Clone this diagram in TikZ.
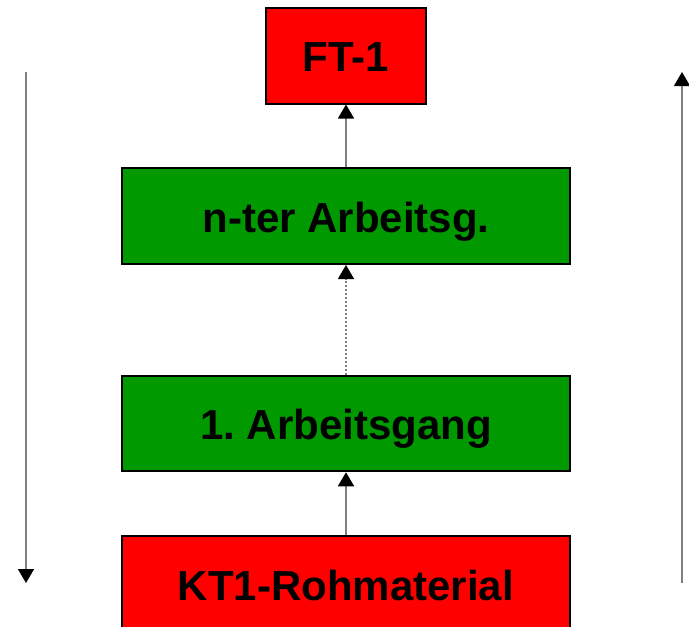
\documentclass[tikz,border=0pt]{standalone}
\usepackage{fontspec}
\setmainfont{Liberation Sans}
\usetikzlibrary{arrows.meta}
\definecolor{boxred}{RGB}{255,0,0}
\definecolor{boxgreen}{RGB}{0,153,0}
\definecolor{linegray}{RGB}{128,128,128}
\frenchspacing
\begin{document}
\begin{tikzpicture}[x=1pt,y=-1pt,
  box/.style={draw=black,line width=2pt,rectangle,inner sep=0pt,
    text height=32pt,text depth=0pt,
    font=\fontsize{42}{50}\selectfont\bfseries\frenchspacing,text=black},
  redbox/.style={box,fill=boxred},
  greenbox/.style={box,fill=boxgreen},
  conn/.style={draw=linegray,line width=1.5pt,
    -{Triangle[width=16pt,length=14pt,color=black]}}]
\clip (0,0) rectangle (689,627);
\node[redbox,minimum width=160pt,minimum height=96pt] (ft) at (346,55.5) {FT-1};
\node[greenbox,minimum width=448pt,minimum height=96pt] (nter) at (346,216) {n-ter Arbeitsg.};
\node[greenbox,minimum width=448pt,minimum height=95.5pt] (erst) at (346,423.5) {1. Arbeitsgang};
\node[redbox,minimum width=448pt,minimum height=96pt] (kt) at (346,584) {KT1-Rohmaterial};
\draw[conn] (kt.north) -- (erst.south);
\draw[conn,dash pattern=on 2pt off 2pt] (erst.north) -- (nter.south);
\draw[conn] (nter.north) -- (ft.south);
\coordinate (lt) at (26,72);
\coordinate (lb) at (26,583);
\coordinate (rt) at (682,72);
\coordinate (rb) at (682,583);
\draw[conn] (lt) -- (lb);
\draw[conn] (rb) -- (rt);
\end{tikzpicture}
\end{document}
